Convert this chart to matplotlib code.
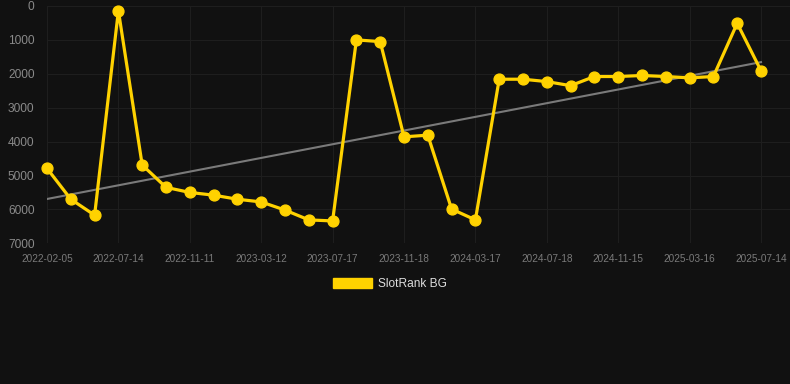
import numpy as np
import matplotlib.pyplot as plt

# rank values per snapshot (lower = better)
ranks = [4790, 5700, 6170, 140, 4690, 5350, 5500, 5580, 5700, 5780,
         6020, 6310, 6340, 1000, 1050, 3860, 3810, 5990, 6310, 2160,
         2160, 2230, 2350, 2080, 2080, 2050, 2080, 2120, 2080, 510, 1910]
tick_labels = ['2022-02-05', '2022-07-14', '2022-11-11', '2023-03-12',
               '2023-07-17', '2023-11-18', '2024-03-17', '2024-07-18',
               '2024-11-15', '2025-03-16', '2025-07-14']
series_name = 'SlotRank BG'

bg = '#111111'
gold = '#FFD200'

x = np.arange(len(ranks))

fig = plt.figure(figsize=(7.9, 3.84), dpi=100, facecolor=bg)
ax = fig.add_axes([47 / 790, 1 - 243.3 / 384, 743 / 790, (243.3 - 6) / 384])
ax.set_facecolor(bg)

# trend line (linear fit)
k, b = np.polyfit(x, ranks, 1)
ax.plot(x, k * x + b, color='#7a7a7a', lw=1.5, zorder=2)

ax.plot(x, ranks, color=gold, lw=2.3, marker='o', ms=7.8,
        clip_on=False, zorder=3, label=series_name)

ax.set_ylim(7000, 0)
ax.set_xlim(0, len(ranks) - 1 + 29 / 23.8)
ax.set_yticks(range(0, 7001, 1000))
ax.set_xticks(x[::3])
ax.set_xticklabels(tick_labels)

ax.grid(True, color='#1e1e1e', lw=0.8)
ax.set_axisbelow(True)
for s in ax.spines.values():
    s.set_visible(False)
ax.tick_params(length=0, pad=7)
ax.tick_params(axis='y', labelsize=8.6, labelcolor='#8a8a8a', pad=9)
ax.tick_params(axis='x', labelsize=7.2, labelcolor='#7a7a7a', pad=8)
for t in ax.get_xticklabels() + ax.get_yticklabels():
    t.set_fontfamily('Liberation Sans')

# legend patch + label below the plot
handle = plt.Rectangle((0, 0), 1, 1, color=gold)
leg = fig.legend([handle], [series_name], loc='center', bbox_to_anchor=(390 / 790, 1 - 284 / 384),
                 frameon=False, handlelength=3.3, handleheight=1.0, handletextpad=0.5,
                 prop={'family': 'Liberation Sans', 'size': 8.6})
for t in leg.get_texts():
    t.set_color('#dddddd')

fig.savefig('out.png', dpi=100, facecolor=bg)
